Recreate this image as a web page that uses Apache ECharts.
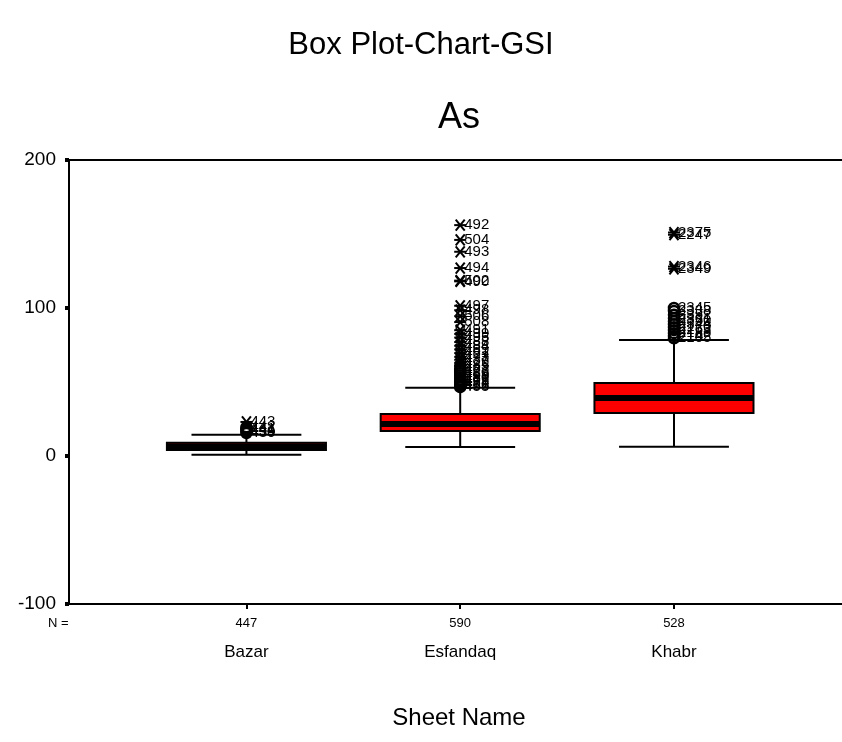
<!DOCTYPE html>
<html>
<head>
<meta charset="utf-8">
<script src="https://cdn.jsdelivr.net/npm/echarts@6/dist/echarts.min.js"></script>
<style>
  html, body { margin: 0; padding: 0; background: #fff; }
  #chart { width: 842px; height: 742px; }
</style>
</head>
<body>
<div id="chart"></div>
<script>
// Box plot of As by sheet (GSI data)
const categories = ['Bazar', 'Esfandaq', 'Khabr'];
const counts = [447, 590, 528];
const lowerWhisker = [0.9, 6.1, 6.3];
const q1 = [4.1, 16.9, 29.1];
const median = [6.5, 21.6, 39.2];
const q3 = [9.0, 28.4, 49.3];
const upperWhisker = [14.4, 46.1, 78.4];
const yTicks = [-100, 0, 100, 200];

// Outliers: [value, case number, kind] — 'o' outlier circle, '*' extreme star
const bazarOutliers = [
  [15.5, '430', 'o'], [16.5, '439', 'o'], [17.5, '444', 'o'],
  [18.5, '441', 'o'], [19.5, '442', 'o'], [23.0, '443', '*']
];
const esfandaqOutliers = [
  [46.5, '455', 'o'], [47.5, '466', 'o'], [48.5, '471', 'o'], [49.5, '458', 'o'],
  [50.5, '475', 'o'], [51.5, '462', 'o'], [53.0, '480', 'o'], [54.5, '469', 'o'],
  [56.0, '486', 'o'], [57.5, '477', 'o'], [59.0, '483', 'o'], [61.0, '485', 'o'],
  [63.0, '479', '*'], [65.0, '487', '*'], [67.0, '473', '*'], [69.5, '481', '*'],
  [72.0, '489', '*'], [74.5, '484', '*'], [77.0, '488', '*'], [80.0, '495', '*'],
  [82.5, '499', '*'], [85.0, '491', '*'], [90.5, '508', '*'], [94.5, '506', '*'],
  [98.5, '498', '*'], [101.5, '497', '*'], [118.0, '490', '*'], [118.5, '502', '*'],
  [127.0, '494', '*'], [138.0, '493', '*'], [146.0, '504', '*'], [156.0, '492', '*']
];
const khabrOutliers = [
  [79.5, '2105', 'o'], [81.0, '2142', 'o'], [83.0, '2188', 'o'], [85.0, '2263', 'o'],
  [87.0, '2170', 'o'], [89.0, '2344', 'o'], [91.0, '2350', 'o'], [93.0, '2361', 'o'],
  [95.5, '2352', 'o'], [98.0, '2338', 'o'], [100.0, '2345', 'o'],
  [126.5, '2349', '*'], [128.0, '2346', '*'], [149.5, '2247', '*'], [151.0, '2375', '*']
];
const outlierGroups = [bazarOutliers, esfandaqOutliers, khabrOutliers];

const FONT = 'Liberation Sans, Arial, sans-serif';
const X_MIN = 0.17, X_MAX = 3.786;

const boxData = categories.map((c, i) =>
  [i + 1, lowerWhisker[i], q1[i], median[i], q3[i], upperWhisker[i]]);

const outlierData = [];
outlierGroups.forEach((group, i) => {
  group.forEach(o => outlierData.push([i + 1, o[0], o[1], o[2]]));
});

function renderBox(params, api) {
  const x = api.value(0);
  const pLow = api.coord([x, api.value(1)]);
  const pQ1 = api.coord([x, api.value(2)]);
  const pMed = api.coord([x, api.value(3)]);
  const pQ3 = api.coord([x, api.value(4)]);
  const pHigh = api.coord([x, api.value(5)]);
  const halfBox = api.size([0.372, 0])[0];
  const halfCap = api.size([0.257, 0])[0];
  const cx = pMed[0];
  const line = { stroke: '#000', lineWidth: 2 };
  return {
    type: 'group',
    children: [
      { type: 'line', shape: { x1: cx, y1: pLow[1], x2: cx, y2: pQ1[1] }, style: line },
      { type: 'line', shape: { x1: cx, y1: pQ3[1], x2: cx, y2: pHigh[1] }, style: line },
      { type: 'line', shape: { x1: cx - halfCap, y1: pLow[1], x2: cx + halfCap, y2: pLow[1] }, style: line },
      { type: 'line', shape: { x1: cx - halfCap, y1: pHigh[1], x2: cx + halfCap, y2: pHigh[1] }, style: line },
      { type: 'rect',
        shape: { x: cx - halfBox, y: pQ3[1], width: halfBox * 2, height: pQ1[1] - pQ3[1] },
        style: { fill: '#ff0000', stroke: '#000', lineWidth: 2 } },
      { type: 'line', shape: { x1: cx - halfBox, y1: pMed[1], x2: cx + halfBox, y2: pMed[1] },
        style: { stroke: '#000', lineWidth: 6 } }
    ]
  };
}

function renderOutlier(params, api) {
  const p = api.coord([api.value(0), api.value(1)]);
  const caseId = api.value(2);
  const kind = api.value(3);
  const children = [];
  if (kind === '*') {
    const st = { stroke: '#000', lineWidth: 2 };
    children.push(
      { type: 'line', shape: { x1: p[0] - 6, y1: p[1], x2: p[0] + 6, y2: p[1] }, style: st },
      { type: 'line', shape: { x1: p[0] - 4.5, y1: p[1] - 5.5, x2: p[0] + 4.5, y2: p[1] + 5.5 }, style: st },
      { type: 'line', shape: { x1: p[0] - 4.5, y1: p[1] + 5.5, x2: p[0] + 4.5, y2: p[1] - 5.5 }, style: st }
    );
  } else {
    children.push({ type: 'circle', shape: { cx: p[0], cy: p[1], r: 5 },
      style: { fill: 'none', stroke: '#000', lineWidth: 2.5 } });
  }
  children.push({ type: 'text', x: p[0] + 4, y: p[1],
    style: { text: String(caseId), fill: '#000', font: '15px ' + FONT,
             verticalAlign: 'middle', align: 'left' } });
  return { type: 'group', children };
}

const chart = echarts.init(document.getElementById('chart'), null, { renderer: 'canvas' });

chart.setOption({
  backgroundColor: '#fff',
  animation: false,
  grid: { left: 69, right: 0, top: 160, bottom: 138 },
  xAxis: [
    {
      type: 'value', min: X_MIN, max: X_MAX, position: 'bottom',
      splitLine: { show: false },
      axisLine: { show: true, onZero: false, lineStyle: { color: '#000', width: 2 } },
      axisTick: { show: true, length: 5, lineStyle: { color: '#000', width: 2 },
                  customValues: [1, 2, 3] },
      axisLabel: {
        customValues: [1, 2, 3], margin: 9, color: '#000', fontFamily: FONT,
        formatter: v => '{n|' + counts[Math.round(v) - 1] + '}\n{c|' + categories[Math.round(v) - 1] + '}',
        rich: {
          n: { fontSize: 13, fontFamily: FONT, color: '#000', lineHeight: 20 },
          c: { fontSize: 17, fontFamily: FONT, color: '#000', lineHeight: 38 }
        }
      }
    },
    {
      type: 'value', min: X_MIN, max: X_MAX, position: 'top',
      splitLine: { show: false },
      axisLine: { show: true, onZero: false, lineStyle: { color: '#000', width: 2 } },
      axisTick: { show: false }, axisLabel: { show: false }
    }
  ],
  yAxis: {
    type: 'value', min: yTicks[0], max: yTicks[yTicks.length - 1], interval: 100,
    splitLine: { show: false },
    axisLine: { show: true, onZero: false, lineStyle: { color: '#000', width: 2 } },
    axisTick: { show: true, length: 4, lineStyle: { color: '#000', width: 4 } },
    axisLabel: { color: '#000', fontFamily: FONT, fontSize: 19, margin: 13 }
  },
  graphic: [
    { type: 'text', x: 421, y: 45,
      style: { text: 'Box Plot-Chart-GSI', font: '31px ' + FONT, fill: '#000',
               align: 'center', verticalAlign: 'middle' } },
    { type: 'text', x: 459, y: 118,
      style: { text: 'As', font: '36px ' + FONT, fill: '#000',
               align: 'center', verticalAlign: 'middle' } },
    { type: 'text', x: 48, y: 623,
      style: { text: 'N =', font: '13px ' + FONT, fill: '#000', verticalAlign: 'middle' } },
    { type: 'text', x: 459, y: 718,
      style: { text: 'Sheet Name', font: '24px ' + FONT, fill: '#000',
               align: 'center', verticalAlign: 'middle' } }
  ],
  series: [
    { type: 'custom', xAxisIndex: 0, renderItem: renderBox, data: boxData, z: 2,
      encode: { x: 0, y: [1, 2, 3, 4, 5] } },
    { type: 'custom', xAxisIndex: 0, renderItem: renderOutlier, data: outlierData, z: 3,
      encode: { x: 0, y: 1 } }
  ]
});
</script>
</body>
</html>
